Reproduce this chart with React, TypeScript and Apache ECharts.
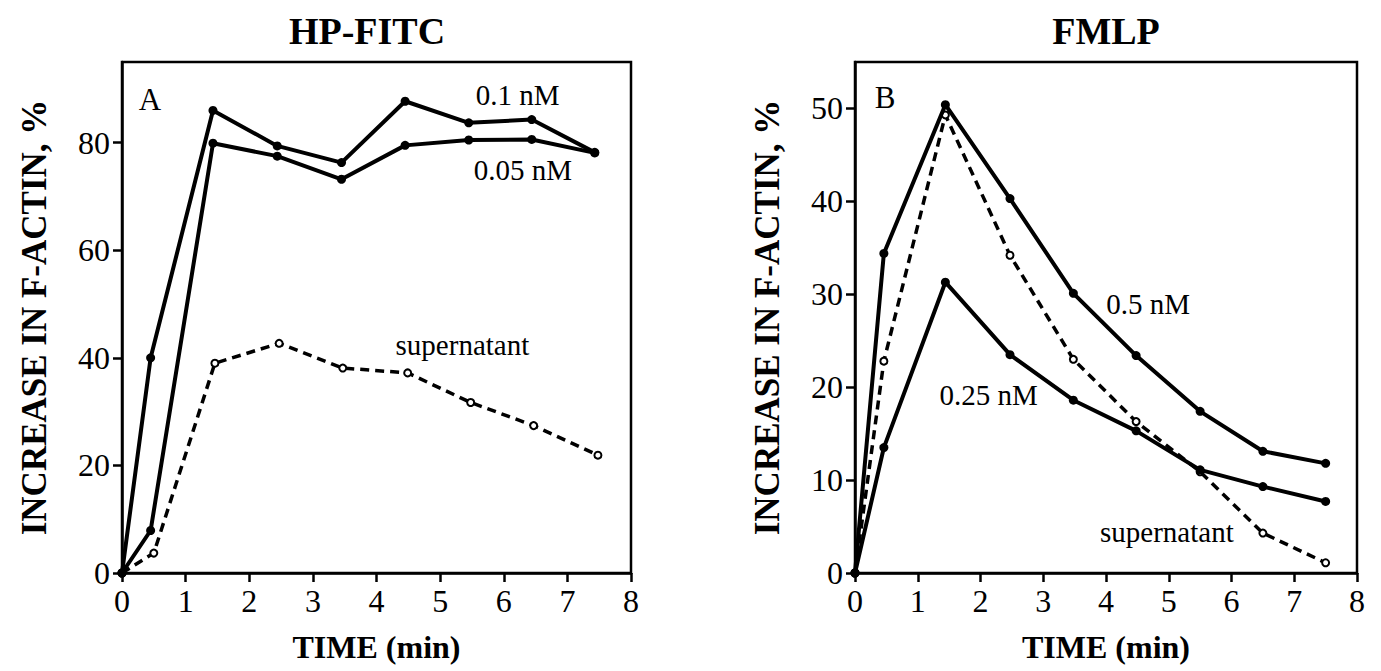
import React, { useEffect, useRef } from "react";
import * as echarts from "echarts";

// Panel A: HP-FITC
const timeA = [0, 0.45, 1.43, 2.44, 3.45, 4.45, 5.45, 6.44, 7.43];
const timeASup = [0, 0.5, 1.46, 2.47, 3.47, 4.49, 5.48, 6.47, 7.48];
const hp01 = [0, 40, 86, 79.4, 76.3, 87.7, 83.7, 84.3, 78.2];
const hp005 = [0, 7.9, 79.9, 77.5, 73.2, 79.5, 80.5, 80.6, 78.1];
const hpSup = [0, 3.7, 39.0, 42.7, 38.1, 37.2, 31.7, 27.4, 21.9];
const yTicksA = [0, 20, 40, 60, 80];

// Panel B: FMLP
const timeB = [0, 0.46, 1.44, 2.47, 3.48, 4.48, 5.5, 6.5, 7.5];
const fm05 = [0, 34.4, 50.4, 40.3, 30.1, 23.4, 17.4, 13.1, 11.8];
const fm025 = [0, 13.5, 31.3, 23.5, 18.6, 15.3, 11.1, 9.3, 7.7];
const fmSup = [0, 22.8, 49.3, 34.2, 23.0, 16.3, 10.9, 4.3, 1.1];
const yTicksB = [0, 10, 20, 30, 40, 50];

const xTicks = [0, 1, 2, 3, 4, 5, 6, 7, 8];

// In-plot annotations: [panel, x, y, text, fontSize]
const notes: [number, number, number, string, number][] = [
  [0, 0.44, 88, "A", 31],
  [0, 6.22, 88.8, "0.1 nM", 29],
  [0, 6.3, 75, "0.05 nM", 29],
  [0, 5.35, 42.4, "supernatant", 29],
  [1, 0.48, 51.2, "B", 31],
  [1, 4.67, 28.9, "0.5 nM", 29],
  [1, 2.13, 19.2, "0.25 nM", 29],
  [1, 4.97, 4.4, "supernatant", 29],
];

const FONT = "'Liberation Serif', 'Times New Roman', serif";

const pairs = (xs: number[], ys: number[]) => xs.map((x, i) => [x, ys[i]]);

function solid(name: string, xi: number, xs: number[], ys: number[]) {
  return {
    type: "line",
    name,
    xAxisIndex: xi,
    yAxisIndex: xi,
    data: pairs(xs, ys),
    symbol: "circle",
    symbolSize: 9,
    itemStyle: { color: "#000" },
    lineStyle: { color: "#000", width: 4 },
    z: 3,
  };
}

function dashed(name: string, xi: number, xs: number[], ys: number[]) {
  return {
    type: "line",
    name,
    xAxisIndex: xi,
    yAxisIndex: xi,
    data: pairs(xs, ys),
    symbol: "emptyCircle",
    symbolSize: 7,
    itemStyle: { color: "#000", borderColor: "#000", borderWidth: 2 },
    lineStyle: { color: "#000", width: 3.5, type: [9, 6] },
    z: 2,
  };
}

function xAxisFor(gridIndex: number) {
  return {
    type: "value",
    gridIndex,
    min: 0,
    max: 8,
    interval: 1,
    name: "TIME (min)",
    nameLocation: "middle",
    nameGap: 58,
    nameTextStyle: { fontFamily: FONT, fontWeight: "bold", fontSize: 32, color: "#000" },
    axisLine: { show: true, lineStyle: { color: "#000", width: 2.5 } },
    axisTick: { show: true, length: 9, inside: false, customValues: xTicks, lineStyle: { color: "#000", width: 2.5 } },
    axisLabel: { fontFamily: FONT, fontSize: 32, color: "#000", margin: 12, customValues: xTicks },
    splitLine: { show: false },
  };
}

function yAxisFor(gridIndex: number, max: number, ticks: number[]) {
  return {
    type: "value",
    gridIndex,
    min: 0,
    max,
    name: "INCREASE IN F-ACTIN, %",
    nameLocation: "middle",
    nameGap: 70,
    nameTextStyle: { fontFamily: FONT, fontWeight: "bold", fontSize: 35, color: "#000" },
    axisLine: { show: true, lineStyle: { color: "#000", width: 2.5 } },
    axisTick: { show: true, length: 9, inside: false, customValues: ticks, lineStyle: { color: "#000", width: 2.5 } },
    axisLabel: { fontFamily: FONT, fontSize: 32, color: "#000", margin: 12, customValues: ticks },
    splitLine: { show: false },
  };
}

export default function App() {
  const ref = useRef<HTMLDivElement>(null);

  useEffect(() => {
    if (!ref.current) return;
    const chart = echarts.init(ref.current, null, { renderer: "svg" });
    const gridStyle = { show: true, borderColor: "#000", borderWidth: 2.5, backgroundColor: "transparent" };
    chart.setOption({
      animation: false,
      backgroundColor: "#fff",
      grid: [
        { left: 122, top: 62, width: 509, bottom: 98, ...gridStyle },
        { left: 855, top: 62, width: 502, bottom: 98, ...gridStyle },
      ],
      xAxis: [xAxisFor(0), xAxisFor(1)],
      yAxis: [yAxisFor(0, 95, yTicksA), yAxisFor(1, 55, yTicksB)],
      series: [
        solid("0.1 nM", 0, timeA, hp01),
        solid("0.05 nM", 0, timeA, hp005),
        dashed("supernatant A", 0, timeASup, hpSup),
        solid("0.5 nM", 1, timeB, fm05),
        solid("0.25 nM", 1, timeB, fm025),
        dashed("supernatant B", 1, timeB, fmSup),
      ],
    });

    const graphics: any[] = [
      {
        type: "text",
        x: 367,
        y: 31,
        style: { text: "HP-FITC", font: `bold 38px ${FONT}`, fill: "#000", textAlign: "center", textVerticalAlign: "middle" },
      },
      {
        type: "text",
        x: 1106,
        y: 31,
        style: { text: "FMLP", font: `bold 38px ${FONT}`, fill: "#000", textAlign: "center", textVerticalAlign: "middle" },
      },
    ];
    notes.forEach(([g, x, y, text, size]) => {
      const p = chart.convertToPixel({ gridIndex: g }, [x, y]) as number[];
      graphics.push({
        type: "text",
        x: p[0],
        y: p[1],
        z: 10,
        style: { text, font: `${size}px ${FONT}`, fill: "#000", textAlign: "center", textVerticalAlign: "middle" },
      });
    });
    chart.setOption({ graphic: graphics });

    return () => chart.dispose();
  }, []);

  return (
    <div
      ref={ref}
      style={{ position: "fixed", left: 0, top: 0, width: 1381, height: 671, background: "#fff" }}
    />
  );
}
